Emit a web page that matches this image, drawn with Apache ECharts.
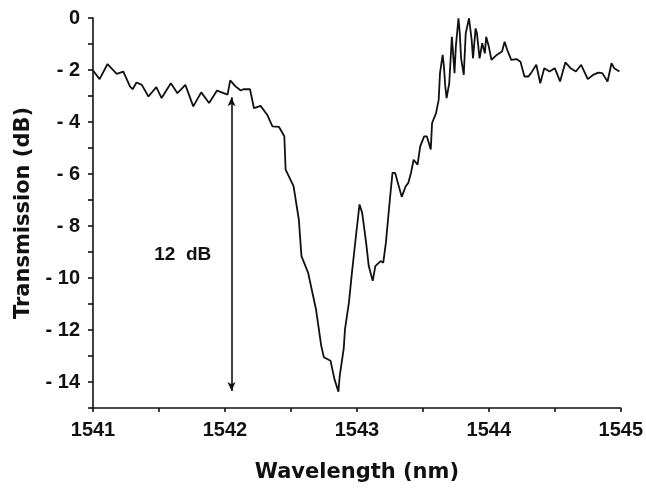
<!DOCTYPE html>
<html>
<head>
<meta charset="utf-8">
<script src="https://cdn.jsdelivr.net/npm/echarts@6/dist/echarts.min.js"></script>
<style>
html,body{margin:0;padding:0;background:#fff;}
#chart{width:646px;height:488px;}
</style>
</head>
<body>
<div id="chart"></div>
<script>
// Wavelength (nm)
var wavelength = [
1541.00,1541.05,1541.11,1541.18,1541.23,1541.28,1541.30,1541.33,1541.37,1541.42,
1541.48,1541.52,1541.59,1541.64,1541.70,1541.76,1541.82,1541.88,1541.94,1542.02,
1542.04,1542.08,1542.12,1542.14,1542.19,1542.22,1542.27,1542.32,1542.36,1542.41,
1542.45,1542.46,1542.52,1542.56,1542.58,1542.63,1542.69,1542.73,1542.75,1542.80,
1542.83,1542.86,1542.87,1542.90,1542.91,1542.94,1542.96,1542.99,1543.02,1543.04,
1543.07,1543.09,1543.12,1543.14,1543.18,1543.20,1543.22,1543.25,1543.27,1543.29,
1543.34,1543.37,1543.39,1543.41,1543.43,1543.46,1543.48,1543.51,1543.53,1543.56,
1543.57,1543.60,1543.62,1543.63,1543.65,1543.66,1543.67,1543.68,1543.70,1543.72,
1543.74,1543.75,1543.77,1543.78,1543.79,1543.81,1543.825,1543.85,1543.87,1543.88,
1543.90,1543.91,1543.93,1543.95,1543.97,1543.98,1544.00,1544.02,1544.06,1544.10,
1544.12,1544.14,1544.17,1544.21,1544.24,1544.27,1544.30,1544.32,1544.36,1544.39,
1544.42,1544.46,1544.50,1544.54,1544.58,1544.62,1544.66,1544.70,1544.75,1544.79,
1544.83,1544.86,1544.90,1544.93,1544.95,1544.99
];
// Transmission (dB)
var transmission = [
-2.02,-2.35,-1.77,-2.15,-2.06,-2.63,-2.74,-2.48,-2.57,-3.02,
-2.66,-3.08,-2.51,-2.89,-2.57,-3.40,-2.86,-3.27,-2.79,-2.95,
-2.40,-2.63,-2.79,-2.74,-2.74,-3.47,-3.38,-3.72,-4.17,-4.19,
-4.55,-5.83,-6.47,-7.75,-9.16,-9.79,-11.20,-12.61,-13.05,-13.18,
-13.89,-14.37,-13.76,-12.73,-11.97,-10.94,-9.92,-8.52,-7.17,-7.49,
-8.64,-9.54,-10.11,-9.54,-9.35,-9.41,-8.64,-6.98,-5.96,-5.96,
-6.88,-6.47,-6.34,-5.96,-5.45,-5.64,-4.94,-4.55,-4.55,-5.06,
-4.04,-3.66,-3.15,-2.12,-1.42,-1.87,-2.63,-3.08,-2.51,-0.72,
-2.12,-1.10,-0.01,-0.59,-1.55,-2.19,-0.59,-0.01,-0.84,-1.55,
-0.40,-0.59,-1.55,-0.97,-1.36,-0.72,-1.10,-1.61,-1.42,-1.29,
-0.91,-1.23,-1.61,-1.58,-1.68,-2.25,-2.25,-2.12,-1.80,-2.51,
-1.93,-2.06,-1.93,-2.44,-1.71,-1.93,-2.06,-1.80,-2.35,-2.19,
-2.10,-2.12,-2.44,-1.74,-1.93,-2.06
];
// Axis ranges / ticks
var xTicks = [1541, 1542, 1543, 1544, 1545];
var yTicks = [0, -2, -4, -6, -8, -10, -12, -14];
// Annotation: 12 dB depth arrow
var arrowX = [1542.05];
var arrowEnds = [-3.05, -14.35];
var noteText = ['12  dB'];
var notePos = [1541.68, -9.1];

var data = wavelength.map(function (w, i) { return [w, transmission[i]]; });
var font = 'Liberation Sans, Arial, sans-serif';
var nameFont = 'DejaVu Sans, Liberation Sans, sans-serif';

var chart = echarts.init(document.getElementById('chart'), null, {renderer: 'canvas'});
chart.setOption({
  animation: false,
  backgroundColor: '#fff',
  grid: {left: 93, right: 23, top: 18, bottom: 79, containLabel: false},
  xAxis: {
    type: 'value',
    min: xTicks[0], max: xTicks[xTicks.length - 1], interval: 0.5,
    name: 'Wavelength (nm)', nameLocation: 'middle', nameGap: 54,
    nameTextStyle: {fontFamily: nameFont, fontWeight: 'bold', fontSize: 21, color: '#111'},
    axisLine: {show: true, onZero: false, lineStyle: {color: '#111', width: 1.6}},
    axisTick: {show: true, inside: false, length: 4, lineStyle: {color: '#111', width: 1.6}},
    splitLine: {show: false},
    axisLabel: {
      margin: 12, fontFamily: font, fontWeight: 'bold', fontSize: 20, color: '#111',
      formatter: function (v) { return xTicks.indexOf(Math.round(v * 100) / 100) >= 0 ? String(v) : ''; }
    }
  },
  yAxis: {
    type: 'value',
    min: -15, max: yTicks[0], interval: 1,
    name: 'Transmission (dB)', nameLocation: 'middle', nameGap: 59, nameRotate: 90,
    nameTextStyle: {fontFamily: nameFont, fontWeight: 'bold', fontSize: 21, color: '#111'},
    axisLine: {show: true, onZero: false, lineStyle: {color: '#111', width: 1.6}},
    axisTick: {show: true, inside: false, length: 5, lineStyle: {color: '#111', width: 1.6}},
    splitLine: {show: false},
    axisLabel: {
      margin: 13, fontFamily: font, fontWeight: 'bold', fontSize: 20, color: '#111',
      formatter: function (v) {
        var r = Math.round(v);
        if (yTicks.indexOf(r) < 0) return '';
        return r < 0 ? '- ' + Math.abs(r) : String(r);
      }
    }
  },
  series: [{
    type: 'line',
    data: data,
    showSymbol: false,
    symbol: 'none',
    smooth: false,
    lineStyle: {color: '#111', width: 1.8},
    markLine: {
      silent: true,
      symbol: ['arrow', 'arrow'],
      symbolSize: [6, 9],
      label: {show: false},
      lineStyle: {color: '#111', width: 1.6, type: 'solid'},
      data: [[{coord: [arrowX[0], arrowEnds[0]]}, {coord: [arrowX[0], arrowEnds[1]]}]]
    },
    markPoint: {
      silent: true,
      symbol: 'circle', symbolSize: 0,
      label: {show: true, position: 'inside', formatter: noteText[0],
        fontFamily: font, fontWeight: 'bold', fontSize: 19, color: '#111'},
      data: [{coord: notePos, value: 12}]
    }
  }]
});
</script>
</body>
</html>
